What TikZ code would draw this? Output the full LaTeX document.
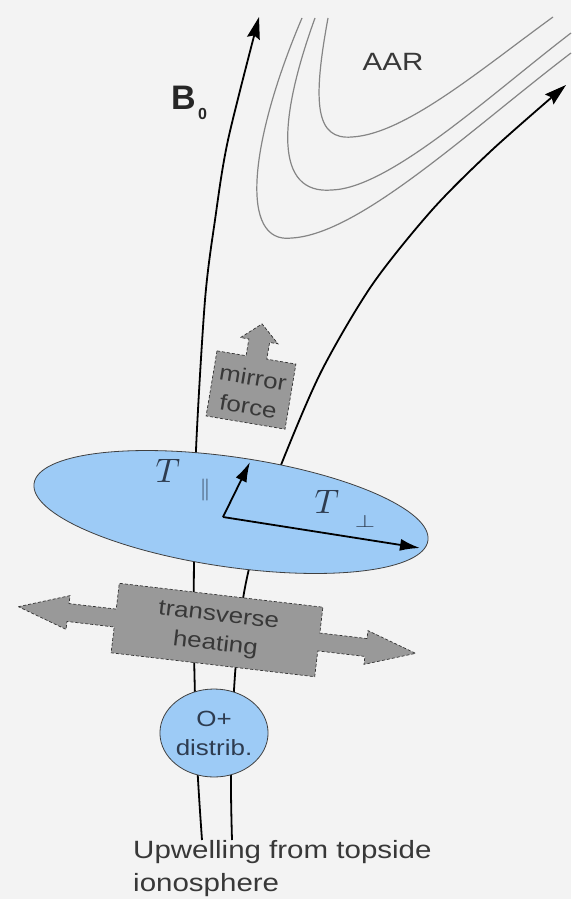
\documentclass[tikz,border=0pt]{standalone}
\usepackage{fontspec}
\usetikzlibrary{arrows.meta,shapes.geometric}
\newfontfamily\lab[FakeStretch=1.18]{Liberation Sans}
\newfontfamily\labb{Liberation Sans}
\definecolor{bg}{HTML}{F3F3F3}
\definecolor{blueone}{HTML}{9DCBF6}
\definecolor{boxgray}{HTML}{999999}
\definecolor{txt}{HTML}{383838}
\definecolor{tcol}{HTML}{2E3C50}
\definecolor{aarc}{HTML}{858585}
\begin{document}
\begin{tikzpicture}[x=1pt,y=-1pt,
  field/.style={line width=1.8pt, black, -{Stealth[length=22pt,width=13pt,inset=3pt]}},
  aarline/.style={line width=1.2pt, aarc},
  graybox/.style={fill=boxgray, draw=black!80, line width=0.7pt, densely dashed},
  blueshape/.style={ellipse, fill=blueone, draw=black!75, line width=0.8pt, inner sep=0pt},
  boxtext/.style={font=\lab\fontsize{22}{29}\selectfont, text=txt, align=center},
  vec/.style={line width=1.8pt, black, -{Latex[length=20pt,width=12pt]}},
  ]
\fill[bg] (0,0) rectangle (571,899);
\useasboundingbox (0,0) rectangle (571,899);

% field lines
\draw[field] plot[smooth] coordinates {(202,840) (197,760) (194,650) (194,560) (196,450) (205,300) (215,220) (228,140) (259,17)};
\draw[field] plot[smooth] coordinates {(232,840) (231,777) (234,690) (240,620) (248,573) (265,510) (285,455) (322,370) (372,285) (432,210) (492,150) (566,85)};

% AAR contours
\draw[aarline] (328,18) .. controls (312,105) and (316,140) .. (352,137) .. controls (405,134) and (480,70) .. (553,17);
\draw[aarline] (315,18) .. controls (278,120) and (274,195) .. (332,190) .. controls (390,188) and (490,95) .. (571,33);
\draw[aarline] (302,18) .. controls (250,140) and (238,245) .. (292,238) .. controls (360,234) and (470,130) .. (571,53);

\node[font=\lab\fontsize{25}{30}\selectfont, text=txt] (aar) at (393,62) {AAR};
\node[anchor=base west, inner sep=0, font=\labb\bfseries\fontsize{34}{40}\selectfont, text=black!85] (b) at (171,109) {B};
\node[anchor=base west, inner sep=0, font=\labb\bfseries\fontsize{16}{20}\selectfont, text=black!85] (bsub) at (198,119) {0};

% mirror force
\begin{scope}[shift={(251,390)}, rotate=-9.5]
\draw[graybox] (-40,-33) -- (-10.5,-33) -- (-10.5,-50) -- (-19,-50) -- (0,-67) -- (19,-50) -- (10.5,-50) -- (10.5,-33) -- (40,-33) -- (40,33) -- (-40,33) -- cycle;
\node[boxtext, rotate=-9.5] (mirror) at (0,2) {mirror\\force};
\end{scope}

% ellipse
\node[blueshape, minimum width=398pt, minimum height=110pt, rotate=-8.25] (ell) at (231,512) {};
\coordinate (o) at (223,517);
\coordinate (tpe) at (250,462);
\coordinate (tqe) at (420,548);
\draw[vec] (o) -- (tpe);
\draw[vec] (o) -- (tqe);
\node[text=tcol] (tp) at (168,471) {\scalebox{3.4}{$T$}};
\node[text=tcol] (tps) at (205,490) {\scalebox{2}[2.2]{$\parallel$}};
\node[text=tcol] (tq) at (327,502) {\scalebox{3.4}{$T$}};
\node[text=tcol] (tqs) at (365,521) {\scalebox{2.6}[1.8]{$\perp$}};

% transverse heating
\begin{scope}[shift={(217,630)}, rotate=-6.7]
\draw[graybox] (-200,0) -- (-150,-17) -- (-150,-9) -- (-102.5,-9) -- (-102.5,-35) -- (102.5,-35) -- (102.5,-9) -- (150,-9) -- (150,-17) -- (200,0) -- (150,17) -- (150,9) -- (102.5,9) -- (102.5,35) -- (-102.5,35) -- (-102.5,9) -- (-150,9) -- (-150,17) -- cycle;
\node[boxtext, rotate=-6.7] (heat) at (0,1) {transverse\\heating};
\end{scope}

% O+ distribution
\node[blueshape, boxtext, text=tcol, minimum width=96pt, minimum height=88pt] (oplus) at (214,733) {O+\\distrib.};

% bottom text
\node[anchor=base west, inner sep=0, font=\lab\fontsize{25}{30}\selectfont, text=txt] (up1) at (133,858) {Upwelling from topside};
\node[anchor=base west, inner sep=0, font=\lab\fontsize{25}{30}\selectfont, text=txt] (up2) at (133,891) {ionosphere};
\end{tikzpicture}
\end{document}
